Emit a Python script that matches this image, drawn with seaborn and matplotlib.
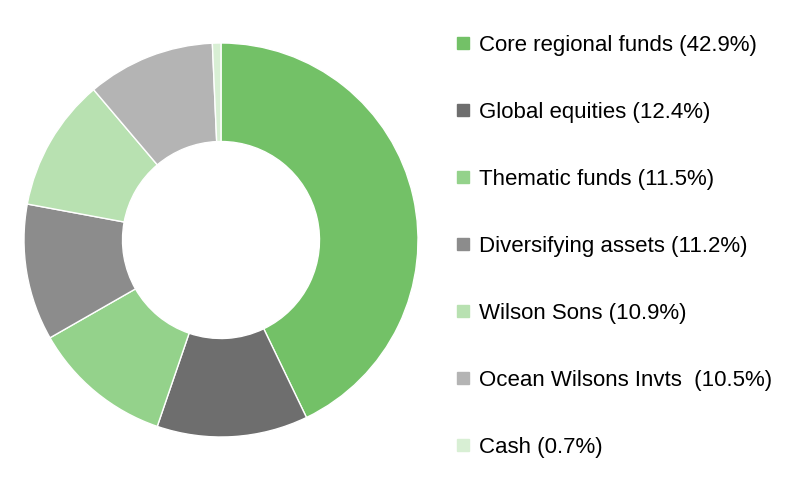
import matplotlib
matplotlib.use("Agg")
import matplotlib.pyplot as plt
import seaborn as sns
from matplotlib.lines import Line2D

sns.set_theme(style="white")
plt.rcParams["font.family"] = ["Liberation Sans", "DejaVu Sans"]

# data
labels = ["Core regional funds", "Global equities", "Thematic funds",
          "Diversifying assets", "Wilson Sons", "Ocean Wilsons Invts ", "Cash"]
shares = [42.9, 12.4, 11.5, 11.2, 10.9, 10.5, 0.7]
colors = ["#73c167", "#6e6e6e", "#94d28b", "#8c8c8c", "#b8e1b1", "#b4b4b4", "#d8efd4"]

fig = plt.figure(figsize=(8, 4.82), dpi=100)
cx, cy, r = 221, 240, 197
ax = fig.add_axes([(cx - r) / 800, (482 - cy - r) / 482, 2 * r / 800, 2 * r / 482])

ax.pie(shares, colors=colors, startangle=90, counterclock=False, radius=1,
       wedgeprops=dict(width=0.5, edgecolor="white", linewidth=1))
ax.set_xlim(-1, 1)
ax.set_ylim(-1, 1)
ax.set_aspect("equal")
ax.axis("off")

handles = [Line2D([0], [0], marker="s", linestyle="", markersize=8,
                  markerfacecolor=c, markeredgecolor=c) for c in colors]
texts = [f"{l} ({v}%)" for l, v in zip(labels, shares)]
leg = fig.legend(handles, texts, loc="upper left", bbox_to_anchor=(456 / 800, 1 - 35 / 482),
                 frameon=False, fontsize=16, labelspacing=2.07, handlelength=0.6,
                 handletextpad=0.45, borderpad=0, borderaxespad=0)
for t in leg.get_texts():
    t.set_color("black")

fig.savefig("out.png", dpi=100, facecolor="white")
